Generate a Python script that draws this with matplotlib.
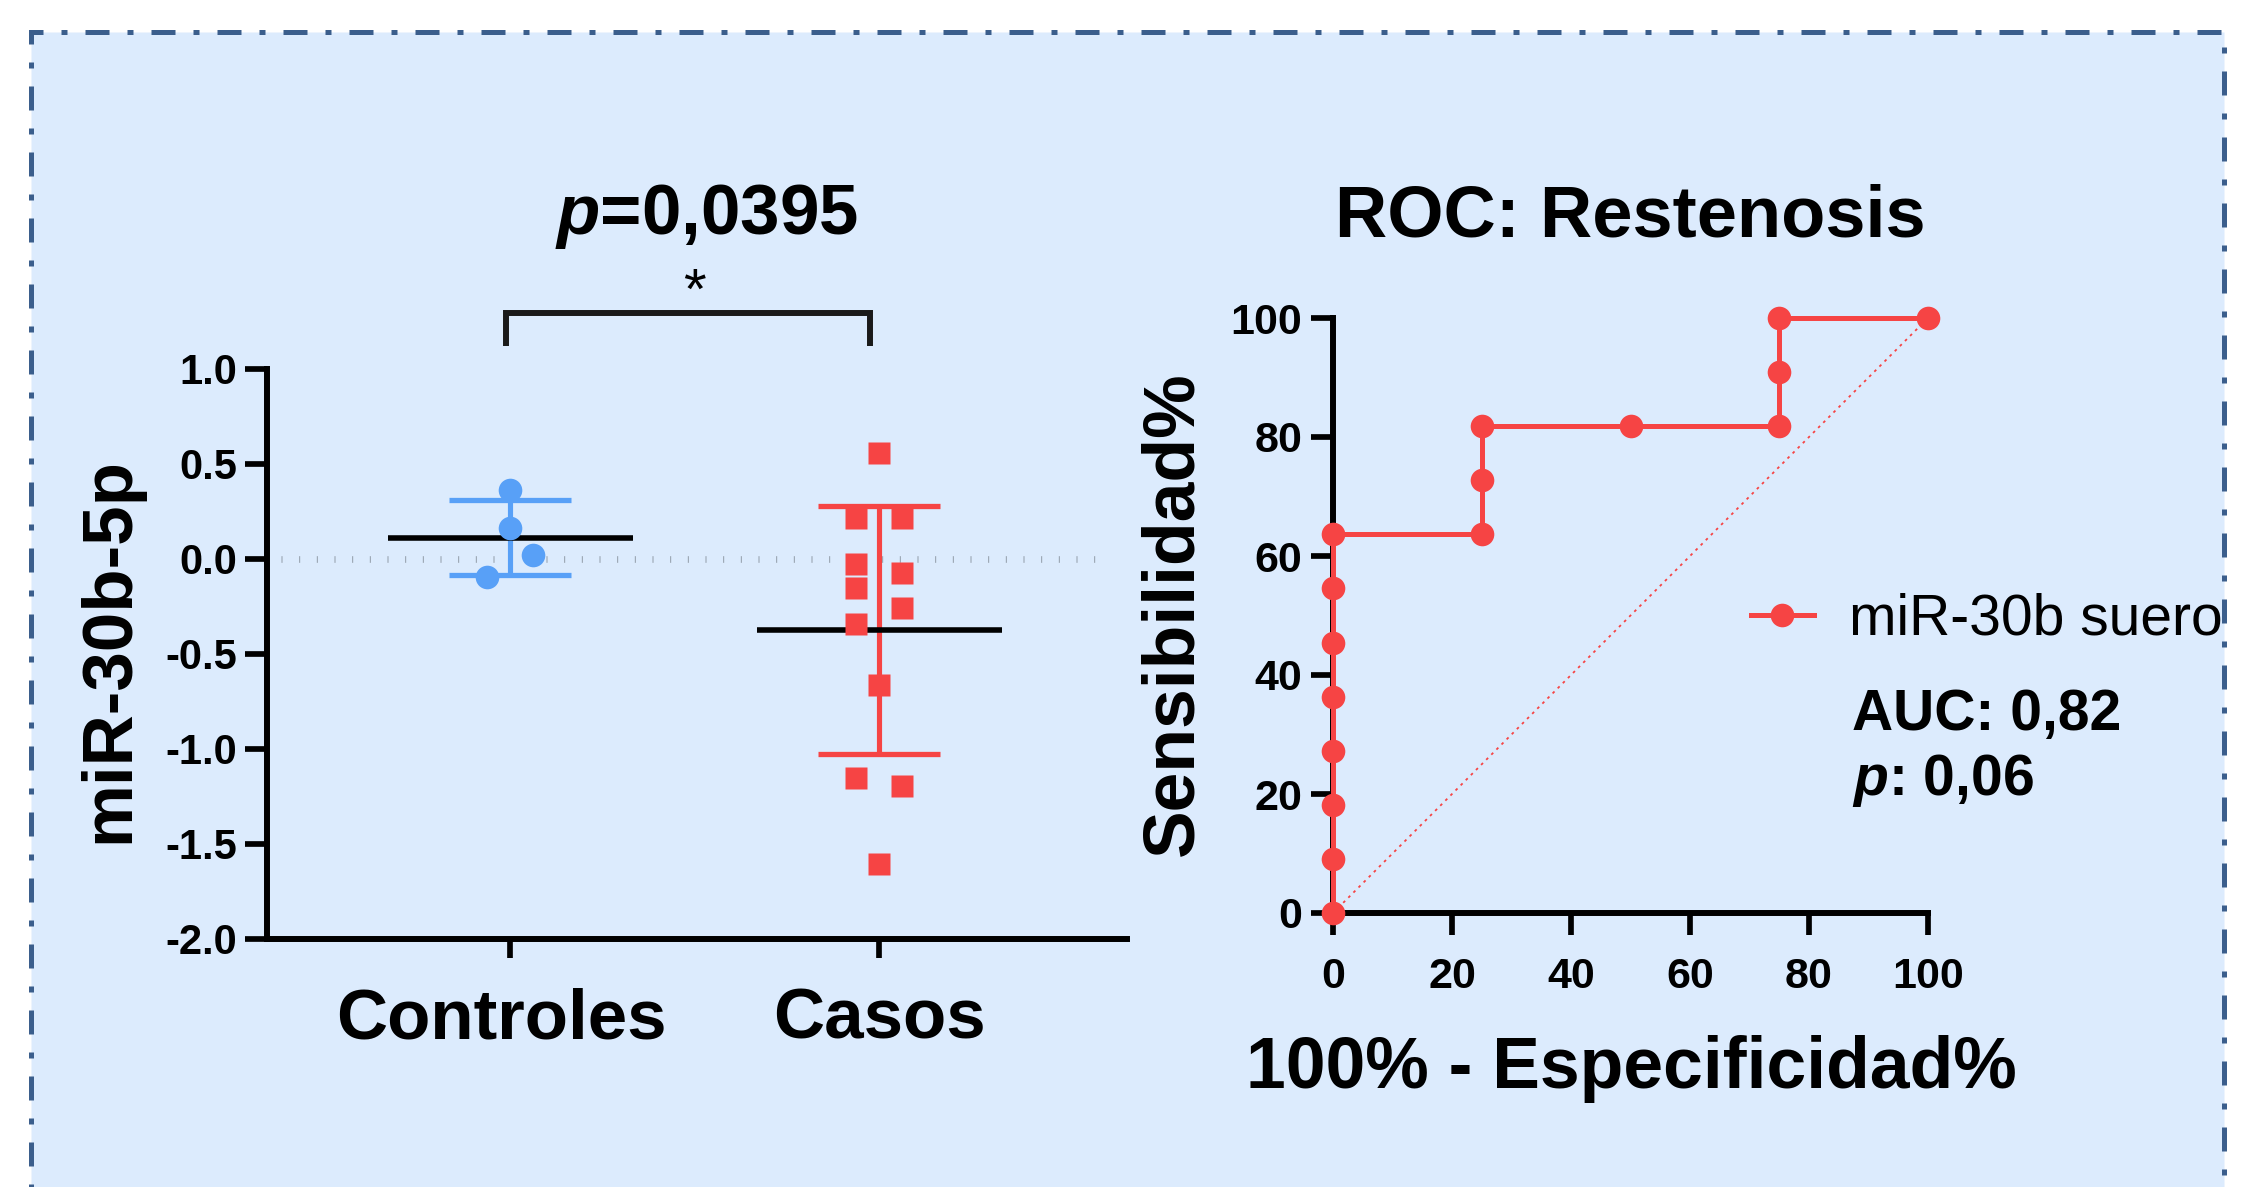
import numpy as np
import matplotlib
matplotlib.use("Agg")
import matplotlib.pyplot as plt
from matplotlib.patches import Rectangle
from matplotlib.transforms import Bbox, TransformedBbox, ScaledTranslation

# ---------------- data ----------------
groups = ["Controles", "Casos"]
controles = [0.361, 0.162, 0.021, -0.097]
controles_jitter = [0, 0, 1, -1]
casos = [0.555, 0.217, 0.217, -0.029, -0.075, -0.155, -0.257, -0.343,
         -0.664, -1.155, -1.197, -1.605]
casos_jitter = [0, -1, 1, -1, 1, -1, 1, -1, 0, -1, 1, 0]
y_ticks = [-2.0, -1.5, -1.0, -0.5, 0.0, 0.5, 1.0]

roc_x = [0, 0, 0, 0, 0, 0, 0, 0, 25, 25, 25, 50, 75, 75, 75, 100]
roc_y = [0, 9.09, 18.18, 27.27, 36.36, 45.45, 54.55, 63.64, 63.64, 72.73,
         81.82, 81.82, 81.82, 90.91, 100, 100]
roc_ticks = [0, 20, 40, 60, 80, 100]

title_left = r"$p$=0,0395"
title_right = "ROC: Restenosis"
legend_label = "miR-30b suero"
auc_text = "AUC: 0,82"
p_text = r"$p$: 0,06"

# ---------------- style ----------------
plt.rcParams["font.family"] = ["Liberation Sans", "DejaVu Sans"]
plt.rcParams["axes.unicode_minus"] = False
plt.rcParams["mathtext.fontset"] = "custom"
plt.rcParams["mathtext.it"] = "Liberation Sans:italic:bold"
plt.rcParams["mathtext.rm"] = "Liberation Sans:bold"
plt.rcParams["mathtext.bf"] = "Liberation Sans:bold"

BG = "#DCEBFD"
BORDER = "#3B5E8C"
BLUE = "#58A0F7"
RED = "#F64444"
W, H = 2259, 1187

def fx(px):
    return px / W

def fy(py):
    return 1 - py / H

fig = plt.figure(figsize=(W / 100, H / 100), dpi=100, facecolor="white")

rect = Rectangle((fx(31), fy(1400)), fx(2224) - fx(31), fy(31.5) - fy(1400),
                 transform=fig.transFigure, facecolor=BG, edgecolor=BORDER,
                 lw=3.6, linestyle=(0, (4.8, 3.6, 1.2, 3.6)), zorder=0,
                 clip_on=False)
fig.add_artist(rect)

SPINE_LW = 4.3
TICK_W = 4.1
TICK_L = 16

# ---------------- left panel ----------------
ax1 = fig.add_axes([fx(266.5), fy(938.5), (1127 - 266.5) / W, (938.5 - 369) / H])
ax1.set_facecolor("none")
ax1.set_xlim(-0.66, 1.672)
ax1.set_ylim(-2, 1)
for s in ["top", "right"]:
    ax1.spines[s].set_visible(False)
for s in ["left", "bottom"]:
    ax1.spines[s].set_linewidth(SPINE_LW)
ax1.set_yticks(y_ticks)
ax1.set_yticklabels([f"{v:.1f}" for v in y_ticks])
ax1.set_xticks([0, 1])
ax1.set_xticklabels(groups)
ax1.tick_params(axis="y", width=TICK_W, length=TICK_L, labelsize=30, pad=5)
ax1.tick_params(axis="x", width=TICK_W, length=14, labelsize=51, pad=21)
for lab in ax1.get_xticklabels() + ax1.get_yticklabels():
    lab.set_fontweight("bold")
lab0 = ax1.get_xticklabels()[0]
lab0.set_transform(lab0.get_transform() + ScaledTranslation(-0.09, 0, fig.dpi_scale_trans))

ax1.hlines(0, -0.62, 1.625, colors="#939EAA", lw=4.8,
           linestyles=[(0, (0.15, 2.5))], zorder=1)

jit = 0.062
for i, (vals, jj, col, mk) in enumerate([(controles, controles_jitter, BLUE, "o"),
                                           (casos, casos_jitter, RED, "s")]):
    v = np.array(vals)
    m = v.mean()
    sd = v.std(ddof=1)
    ax1.vlines(i, m - sd, m + sd, colors=col, lw=3.7, zorder=2)
    ax1.hlines([m - sd, m + sd], i - 0.165, i + 0.165, colors=col, lw=3.8, zorder=2)
    ax1.hlines(m, i - 0.332, i + 0.332, colors="black", lw=4.0, zorder=3)
    xs = i + np.array(jj) * jit
    ax1.plot(xs, v, linestyle="none", marker=mk, ms=17 if mk == "o" else 16.5,
             color=col, mec="none", zorder=4, clip_on=False)

# significance bracket
ax1.plot([-0.01, -0.01, 0.975, 0.975], [1.119, 1.296, 1.296, 1.119],
         color="#1a1a1a", lw=4.3, clip_on=False, solid_joinstyle="miter",
         solid_capstyle="butt")
fig.text(fx(694), fy(309), "*", ha="center", va="baseline", fontsize=42)
fig.text(fx(706), fy(234), title_left, ha="center", va="baseline",
         fontsize=51, fontweight="bold")
fig.text(fx(128), fy(650), "miR-30b-5p", rotation=90, rotation_mode="anchor",
         ha="center", va="baseline", fontsize=51, fontweight="bold")

# ---------------- ROC panel ----------------
ax2 = fig.add_axes([fx(1333), fy(913), 595 / W, 595 / H])
ax2.set_facecolor("none")
ax2.set_xlim(0, 100)
ax2.set_ylim(0, 100)
for s in ["top", "right"]:
    ax2.spines[s].set_visible(False)
for s in ["left", "bottom"]:
    ax2.spines[s].set_linewidth(SPINE_LW)
ax2.set_xticks(roc_ticks)
ax2.set_yticks(roc_ticks)
ax2.tick_params(axis="both", width=TICK_W, length=TICK_L, labelsize=31)
ax2.tick_params(axis="x", pad=16)
ax2.tick_params(axis="y", pad=6)
for lab in ax2.get_xticklabels() + ax2.get_yticklabels():
    lab.set_fontweight("bold")

ax2.plot([0, 100], [0, 100], linestyle=(0, (1.5, 2.5)), color=RED, lw=1.3, zorder=2)
line, = ax2.plot(roc_x, roc_y, color=RED, lw=3.6, marker="o", ms=17, mec="none",
                 clip_on=False, zorder=5, label=legend_label)

fig.text(fx(1630), fy(236), title_right, ha="center", va="baseline",
         fontsize=52, fontweight="bold")
fig.text(fx(1631), fy(1088), "100% - Especificidad%", ha="center", va="baseline",
         fontsize=51.5, fontweight="bold")
fig.text(fx(1192), fy(614), "Sensibilidad%", rotation=90, rotation_mode="anchor",
         ha="center", va="baseline", fontsize=51.5, fontweight="bold")

leg = fig.legend(handles=[line], loc="center left",
                 bbox_to_anchor=(fx(1751), fy(620)), frameon=False,
                 fontsize=41, handlelength=1.1, handletextpad=0.62,
                 borderpad=0, borderaxespad=0)
clipbox = TransformedBbox(Bbox.from_extents(0, 0, fx(2221.5), 1), fig.transFigure)
for t in leg.get_texts():
    t.set_clip_box(clipbox)
    t.set_clip_on(True)

fig.text(fx(1852), fy(730), auc_text, ha="left", va="baseline",
         fontsize=41, fontweight="bold")
fig.text(fx(1852), fy(795), p_text, ha="left", va="baseline",
         fontsize=41, fontweight="bold")

fig.savefig("out.png", dpi=100, facecolor="white")
